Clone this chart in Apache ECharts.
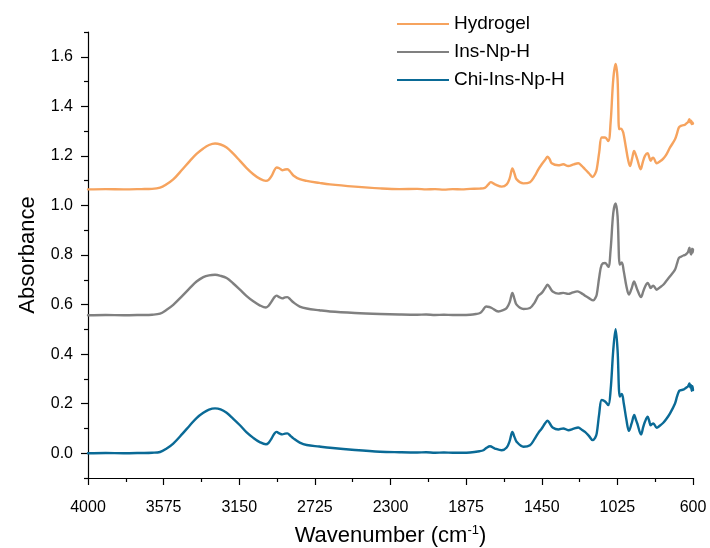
<!DOCTYPE html>
<html><head><meta charset="utf-8">
<script src="https://cdn.jsdelivr.net/npm/echarts@6/dist/echarts.min.js"></script>
<style>html,body{margin:0;padding:0;background:#fff}#c{width:710px;height:548px}</style>
</head><body><div id="c"></div>
<script>
const seriesNames = ['Hydrogel', 'Ins-Np-H', 'Chi-Ins-Np-H'];
const xMajorTicks = [4000, 3575, 3150, 2725, 2300, 1875, 1450, 1025, 600];
const xMinorTicks = [3787.5, 3362.5, 2937.5, 2512.5, 2087.5, 1662.5, 1237.5, 812.5];
const yMajorTicks = [0, 0.2, 0.4, 0.6, 0.8, 1.0, 1.2, 1.4, 1.6];
const yMinorTicks = [-0.1, 0.1, 0.3, 0.5, 0.7, 0.9, 1.1, 1.3, 1.5, 1.7];

const hydrogelData = [[4000,1.065],[3900,1.066],[3800,1.065],[3700,1.066],[3640,1.067],[3595,1.072],[3560,1.085],[3521,1.105],[3470,1.145],[3427,1.180],[3390,1.208],[3352,1.230],[3320,1.244],[3286,1.250],[3255,1.246],[3221,1.234],[3185,1.21],[3146,1.180],[3110,1.152],[3071,1.126],[3035,1.108],[3000,1.099],[2985,1.103],[2968,1.119],[2952,1.143],[2940,1.153],[2925,1.150],[2908,1.142],[2893,1.145],[2880,1.146],[2862,1.135],[2846,1.121],[2810,1.106],[2771,1.099],[2700,1.091],[2640,1.085],[2500,1.076],[2359,1.069],[2250,1.066],[2150,1.067],[2100,1.065],[2050,1.066],[2000,1.064],[1950,1.066],[1900,1.065],[1853,1.067],[1800,1.068],[1770,1.071],[1750,1.085],[1737,1.094],[1713,1.085],[1675,1.076],[1647,1.085],[1630,1.11],[1615,1.149],[1603,1.128],[1591,1.105],[1553,1.089],[1516,1.094],[1490,1.118],[1469,1.146],[1450,1.166],[1430,1.185],[1417,1.197],[1405,1.186],[1394,1.170],[1357,1.162],[1329,1.166],[1301,1.159],[1270,1.166],[1245,1.170],[1225,1.16],[1207,1.146],[1185,1.13],[1164,1.115],[1150,1.128],[1141,1.146],[1127,1.215],[1113,1.274],[1094,1.274],[1076,1.260],[1063,1.335],[1048,1.510],[1035,1.571],[1024,1.510],[1015,1.308],[1008,1.31],[1001,1.308],[992,1.294],[977,1.234],[965,1.185],[954,1.159],[942,1.19],[931,1.220],[922,1.205],[913,1.186],[894,1.146],[882,1.175],[870,1.200],[855,1.211],[846,1.195],[838,1.180],[830,1.19],[823,1.193],[804,1.170],[785,1.178],[767,1.189],[750,1.205],[729,1.234],[701,1.267],[690,1.29],[679,1.315],[665,1.322],[654,1.324],[645,1.326],[635,1.332],[628,1.336],[620,1.348],[615,1.335],[610,1.342],[607,1.328],[603,1.335],[600,1.33]];

const insNpHData = [[4000,0.557],[3900,0.558],[3800,0.557],[3700,0.558],[3640,0.559],[3595,0.563],[3560,0.578],[3521,0.599],[3470,0.635],[3427,0.667],[3390,0.693],[3352,0.711],[3320,0.718],[3286,0.720],[3255,0.716],[3221,0.707],[3185,0.686],[3146,0.660],[3110,0.635],[3071,0.613],[3035,0.597],[3000,0.588],[2985,0.595],[2968,0.613],[2952,0.630],[2940,0.636],[2925,0.630],[2908,0.625],[2893,0.629],[2880,0.630],[2862,0.620],[2846,0.609],[2810,0.592],[2771,0.584],[2700,0.577],[2640,0.572],[2500,0.566],[2359,0.562],[2250,0.560],[2150,0.559],[2100,0.560],[2050,0.558],[2000,0.559],[1950,0.558],[1900,0.558],[1853,0.559],[1820,0.562],[1797,0.566],[1780,0.578],[1763,0.592],[1745,0.590],[1731,0.586],[1694,0.572],[1665,0.578],[1647,0.586],[1630,0.61],[1615,0.647],[1603,0.622],[1591,0.599],[1553,0.582],[1516,0.586],[1490,0.608],[1469,0.636],[1450,0.647],[1430,0.668],[1417,0.680],[1403,0.667],[1389,0.653],[1357,0.644],[1329,0.647],[1301,0.643],[1275,0.649],[1251,0.653],[1230,0.647],[1207,0.636],[1185,0.626],[1160,0.617],[1150,0.625],[1141,0.640],[1127,0.71],[1113,0.761],[1094,0.768],[1076,0.752],[1063,0.822],[1048,0.970],[1035,1.008],[1024,0.957],[1011,0.761],[1000,0.770],[989,0.734],[974,0.673],[960,0.640],[945,0.665],[931,0.693],[922,0.678],[913,0.660],[892,0.630],[880,0.652],[870,0.671],[855,0.687],[846,0.678],[838,0.667],[830,0.673],[823,0.676],[804,0.660],[785,0.670],[767,0.680],[750,0.695],[729,0.714],[701,0.741],[690,0.765],[679,0.788],[665,0.794],[654,0.798],[645,0.800],[635,0.806],[628,0.812],[620,0.829],[615,0.81],[610,0.802],[605,0.825],[602,0.81],[600,0.822]];

const chiInsNpHData = [[4000,0.000],[3900,0.001],[3800,0.000],[3700,0.001],[3640,0.002],[3595,0.005],[3560,0.018],[3521,0.039],[3470,0.078],[3427,0.113],[3390,0.142],[3352,0.163],[3320,0.176],[3286,0.181],[3255,0.177],[3221,0.163],[3185,0.14],[3146,0.113],[3110,0.085],[3071,0.062],[3035,0.045],[3000,0.036],[2985,0.042],[2968,0.060],[2952,0.080],[2940,0.086],[2925,0.080],[2908,0.076],[2893,0.079],[2880,0.080],[2862,0.070],[2846,0.060],[2810,0.043],[2771,0.033],[2700,0.027],[2640,0.022],[2500,0.013],[2359,0.006],[2250,0.004],[2150,0.003],[2100,0.004],[2050,0.002],[2000,0.003],[1950,0.002],[1900,0.002],[1853,0.003],[1800,0.008],[1778,0.012],[1760,0.022],[1741,0.028],[1713,0.019],[1675,0.012],[1647,0.023],[1630,0.05],[1615,0.086],[1603,0.065],[1591,0.046],[1553,0.026],[1516,0.032],[1490,0.058],[1469,0.082],[1450,0.100],[1430,0.122],[1417,0.131],[1403,0.118],[1389,0.104],[1357,0.096],[1329,0.100],[1301,0.093],[1270,0.099],[1245,0.104],[1225,0.095],[1207,0.086],[1185,0.07],[1164,0.053],[1150,0.062],[1141,0.080],[1127,0.16],[1113,0.215],[1094,0.209],[1076,0.194],[1063,0.255],[1048,0.417],[1035,0.501],[1024,0.417],[1011,0.229],[1000,0.239],[989,0.201],[974,0.134],[960,0.090],[945,0.12],[930,0.154],[922,0.138],[913,0.120],[892,0.076],[880,0.105],[870,0.127],[855,0.147],[846,0.13],[838,0.113],[830,0.118],[823,0.120],[804,0.103],[785,0.112],[767,0.123],[750,0.138],[729,0.161],[701,0.201],[690,0.228],[677,0.252],[665,0.255],[651,0.258],[643,0.262],[635,0.266],[628,0.27],[620,0.282],[615,0.265],[611,0.275],[607,0.252],[603,0.27],[600,0.255]];

const colors = ['#f6a35e', '#808080', '#0a6a96'];
const FONT = "'Liberation Sans', Arial, sans-serif";

const chart = echarts.init(document.getElementById('c'), null, {renderer: 'canvas'});
const xBase = {type: 'value', min: 600, max: 4000, inverse: true, position: 'bottom', splitLine: {show: false}};
const yBase = {type: 'value', min: -0.1, max: 1.7, position: 'left', splitLine: {show: false}};
chart.setOption({
  animation: false,
  backgroundColor: '#fff',
  grid: {left: 88, right: 17, top: 32, bottom: 70, containLabel: false, outerBoundsMode: 'none'},
  legend: {
    orient: 'vertical', left: 392, top: 9, itemWidth: 52, itemHeight: 2, itemGap: 8,
    icon: 'rect', data: seriesNames,
    textStyle: {fontSize: 19, fontFamily: FONT, color: '#000', lineHeight: 20}
  },
  xAxis: [
    Object.assign({}, xBase, {
      name: 'Wavenumber (cm{sup|-1})', nameLocation: 'middle', nameGap: 46,
      nameTextStyle: {fontSize: 22, fontFamily: FONT, color: '#000', lineHeight: 24,
        rich: {sup: {fontSize: 13, fontFamily: FONT, color: '#000', verticalAlign: 'top', lineHeight: 12}}},
      axisLine: {show: true, onZero: false, lineStyle: {color: '#000', width: 1.2}},
      axisTick: {show: true, inside: false, length: 7, customValues: xMajorTicks, lineStyle: {color: '#000', width: 1.2}},
      axisLabel: {customValues: xMajorTicks, margin: 22, fontSize: 16, fontFamily: FONT, color: '#000',
        formatter: v => String(Math.round(v))}
    }),
    Object.assign({}, xBase, {
      axisLine: {show: false, onZero: false},
      axisTick: {show: true, length: 4, customValues: xMinorTicks, lineStyle: {color: '#000', width: 1.2}},
      axisLabel: {show: false}
    })
  ],
  yAxis: [
    Object.assign({}, yBase, {
      name: 'Absorbance', nameLocation: 'middle', nameGap: 49, nameRotate: 90,
      nameTextStyle: {fontSize: 22, fontFamily: FONT, color: '#000'},
      axisLine: {show: true, onZero: false, lineStyle: {color: '#000', width: 1.2}},
      axisTick: {show: true, length: 7, customValues: yMajorTicks, lineStyle: {color: '#000', width: 1.2}},
      axisLabel: {customValues: yMajorTicks, margin: 15, fontSize: 16, fontFamily: FONT, color: '#000',
        formatter: v => Number(v).toFixed(1)}
    }),
    Object.assign({}, yBase, {
      axisLine: {show: false, onZero: false},
      axisTick: {show: true, length: 4, customValues: yMinorTicks, lineStyle: {color: '#000', width: 1.2}},
      axisLabel: {show: false}
    })
  ],
  series: [hydrogelData, insNpHData, chiInsNpHData].map((d, i) => ({
    name: seriesNames[i], type: 'line', data: d, xAxisIndex: 0, yAxisIndex: 0,
    showSymbol: false, symbol: 'none', smooth: 0.35,
    lineStyle: {color: colors[i], width: 2.4, join: 'round', cap: 'round'}, itemStyle: {color: colors[i]}
  }))
});
</script></body></html>
